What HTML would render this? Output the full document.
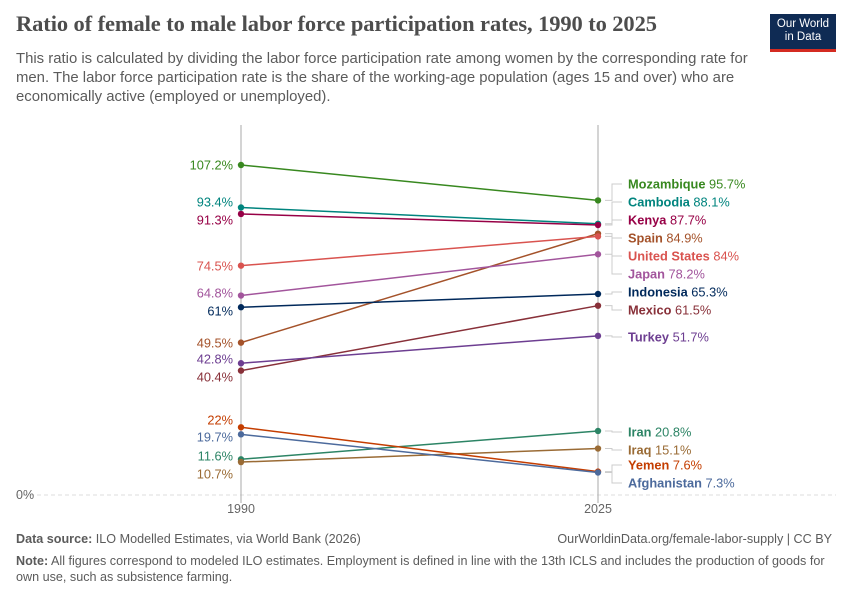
<!DOCTYPE html>
<html><head><meta charset="utf-8"><style>
body{margin:0;background:#fff;font-family:"Liberation Sans",sans-serif;}
#wrap{position:relative;width:850px;height:600px;overflow:hidden;}
h1{position:absolute;left:16px;top:11px;margin:0;font-family:"Liberation Serif",serif;font-weight:bold;font-size:22.5px;color:#4d4d4d;letter-spacing:-0.1px;}
.sub{position:absolute;left:16px;top:50px;width:745px;font-size:14.9px;line-height:19px;color:#5b5b5b;}
.logo{position:absolute;left:770px;top:14px;width:66px;height:38px;background:#0f2b54;color:#fff;font-size:11.5px;line-height:13px;text-align:center;padding-top:4px;box-sizing:border-box;border-bottom:3px solid #d42b21;}
.foot{position:absolute;font-size:12.6px;color:#5b5b5b;}
</style></head><body><div id="wrap">
<h1>Ratio of female to male labor force participation rates, 1990 to 2025</h1>
<div class="sub">This ratio is calculated by dividing the labor force participation rate among women by the corresponding rate for men. The labor force participation rate is the share of the working-age population (ages 15 and over) who are economically active (employed or unemployed).</div>
<div class="logo">Our World<br>in Data</div>
<svg id="chart" width="850" height="600" style="position:absolute;left:0;top:0"></svg>
<div class="foot" style="left:16px;top:532px"><b>Data source:</b> ILO Modelled Estimates, via World Bank (2026)</div>
<div class="foot" style="right:18px;top:532px">OurWorldinData.org/female-labor-supply | CC BY</div>
<div class="foot" style="left:16px;top:553px;width:820px;line-height:16px"><b>Note:</b> All figures correspond to modeled ILO estimates. Employment is defined in line with the 13th ICLS and includes the production of goods for own use, such as subsistence farming.</div>
</div>
<script>
const countries=["Mozambique","Cambodia","Kenya","Spain","United States","Japan","Indonesia","Mexico","Turkey","Iran","Iraq","Yemen","Afghanistan"];
const v1990=[107.2,93.4,91.3,49.5,74.5,64.8,61,40.4,42.8,11.6,10.7,22,19.7];
const v2025=[95.7,88.1,87.7,84.9,84,78.2,65.3,61.5,51.7,20.8,15.1,7.6,7.3];
const colors=["#38881f","#00847e","#970046","#a4522a","#d9534f","#a2559c","#00295b","#883039","#6d3e91","#2c8465","#9a6b35","#c43d00","#4c6a9c"];
const labelY2025=[184,202,220,238,256,274,292,310,337,432,450,465,483];
const labelY1990=[165,202,220,343,266,293,311,377,359,456,474,420,437];
const years=["1990","2025"];
const x1=241,x2=598,y0=495,yTop=165,vTop=107.2;
const ys=v=>y0-(v/vTop)*(y0-yTop);
const svg=document.getElementById('chart');const NS="http://www.w3.org/2000/svg";
function mk(t,a,p){const e=document.createElementNS(NS,t);for(const k in a)e.setAttribute(k,a[k]);(p||svg).appendChild(e);return e;}
let g=mk('line',{x1:16,x2:836,y1:y0,y2:y0,stroke:'#ddd','stroke-dasharray':'4,3'});


let t=mk('text',{x:16,y:y0+4,'font-size':12.5,fill:'#666'});t.textContent='0%';


[x1,x2].forEach((x,i)=>{let l=mk('line',{x1:x,x2:x,y1:125,y2:y0+8,stroke:'#aaa'});


let tt=mk('text',{x:x,y:513,'font-size':12.5,fill:'#666','text-anchor':'middle'});tt.textContent=years[i];

});
countries.forEach((c,i)=>{
 const ya=ys(v1990[i]),yb=ys(v2025[i]);
 let ln=mk('line',{x1:x1,y1:ya,x2:x2,y2:yb,stroke:colors[i],'stroke-width':1.5});
 
 
 [[x1,ya],[x2,yb]].forEach(p=>{let d=mk('circle',{cx:p[0],cy:p[1],r:3.2,fill:colors[i]});
 
 });
 const ly=labelY2025[i];
 let cn=mk('polyline',{points:`${x2+7},${yb} ${x2+14},${yb} ${x2+14},${ly} ${x2+24},${ly}`,fill:'none',stroke:'#ccc'});
 
 
 let lb=mk('text',{x:x2+30,y:ly+4.5,'font-size':12.8,fill:colors[i]});
 lb.innerHTML=`<tspan font-weight="bold">${c}</tspan> ${v2025[i]}%`;
 
 
 let la=mk('text',{x:x1-8,y:labelY1990[i]+4.5,'font-size':12.8,fill:colors[i],'text-anchor':'end'});
 la.textContent=v1990[i]+'%';
 
 
});
</script></body></html>
